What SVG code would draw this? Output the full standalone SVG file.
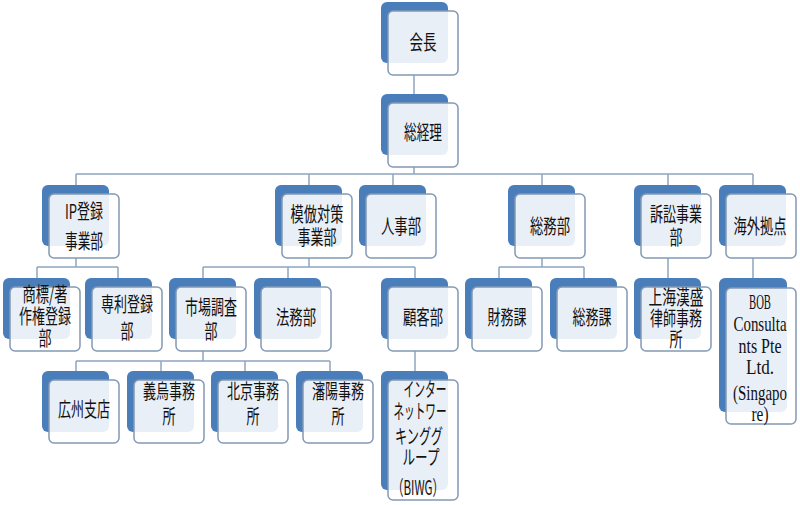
<svg xmlns="http://www.w3.org/2000/svg" width="800" height="505" viewBox="0 0 800 505">
<style>
.b{fill:#4a7ebb}
.f{fill:#ffffff;fill-opacity:0.88;stroke:#8399b4;stroke-width:1.5}
.c{fill:none;stroke:#8fa5c0;stroke-width:1.5}
text{font-family:"Noto Sans CJK JP","Noto Sans",sans-serif;font-size:20px;text-anchor:middle;fill:#111111}
text.s{font-family:"Liberation Serif","Noto Sans CJK JP",serif;font-size:22px}
</style>
<rect width="800" height="505" fill="#ffffff"/>
<g id="connectors" class="c">
<path d="M414,75 V94 M414,167 V174 M76,174 H753 M76,174 V185 M309,174 V185 M393,174 V185 M542,174 V185 M668,174 V185 M753,174 V185"/>
<path d="M76,258 V267 M37,267 H118 M37,267 V278 M118,267 V278"/>
<path d="M309,258 V267 M203,267 H415 M203,267 V278 M288,267 V278 M415,267 V278"/>
<path d="M542,258 V267 M499,267 H584 M499,267 V278 M584,267 V278"/>
<path d="M668,258 V278 M753,258 V278"/>
<path d="M203,351 V361 M76,361 H330 M76,361 V371 M161,361 V371 M245,361 V371 M330,361 V371"/>
<path d="M415,351 V371"/>
</g>
<g id="n-kaicho"><rect class="b" x="381" y="2" width="67" height="61" rx="6"/><rect class="f" x="388" y="11" width="70" height="64" rx="5"/><text x="423" y="50" textLength="27" lengthAdjust="spacingAndGlyphs">会長</text></g>
<g id="n-sokeiri"><rect class="b" x="381" y="94" width="67" height="61" rx="6"/><rect class="f" x="388" y="103" width="70" height="64" rx="5"/><text x="423" y="140" textLength="38" lengthAdjust="spacingAndGlyphs">総経理</text></g>
<g id="n-ip"><rect class="b" x="42" y="185" width="67" height="61" rx="6"/><rect class="f" x="49" y="194" width="70" height="64" rx="5"/><text x="84" y="219" textLength="38" lengthAdjust="spacingAndGlyphs">IP登録</text><text x="84" y="249" textLength="38" lengthAdjust="spacingAndGlyphs">事業部</text></g>
<g id="n-mohou"><rect class="b" x="275" y="185" width="67" height="61" rx="6"/><rect class="f" x="282" y="194" width="70" height="64" rx="5"/><text x="317" y="222" textLength="53" lengthAdjust="spacingAndGlyphs">模倣対策</text><text x="317" y="245" textLength="39" lengthAdjust="spacingAndGlyphs">事業部</text></g>
<g id="n-jinji"><rect class="b" x="359" y="185" width="67" height="61" rx="6"/><rect class="f" x="366" y="194" width="70" height="64" rx="5"/><text x="401" y="234" textLength="40" lengthAdjust="spacingAndGlyphs">人事部</text></g>
<g id="n-somubu"><rect class="b" x="508" y="185" width="67" height="61" rx="6"/><rect class="f" x="515" y="194" width="70" height="64" rx="5"/><text x="550" y="234" textLength="40" lengthAdjust="spacingAndGlyphs">総務部</text></g>
<g id="n-sosho"><rect class="b" x="634" y="185" width="67" height="61" rx="6"/><rect class="f" x="641" y="194" width="70" height="64" rx="5"/><text x="676" y="222" textLength="52" lengthAdjust="spacingAndGlyphs">訴訟事業</text><text x="676" y="245" textLength="13" lengthAdjust="spacingAndGlyphs">部</text></g>
<g id="n-kaigai"><rect class="b" x="719" y="185" width="67" height="61" rx="6"/><rect class="f" x="726" y="194" width="70" height="64" rx="5"/><text x="760" y="234" textLength="53" lengthAdjust="spacingAndGlyphs">海外拠点</text></g>
<g id="n-shohyo"><rect class="b" x="3" y="278" width="67" height="61" rx="6"/><rect class="f" x="10" y="287" width="70" height="64" rx="5"/><text x="45" y="302" textLength="45" lengthAdjust="spacingAndGlyphs">商標/著</text><text x="45" y="324" textLength="52" lengthAdjust="spacingAndGlyphs">作権登録</text><text x="45" y="346" textLength="13" lengthAdjust="spacingAndGlyphs">部</text></g>
<g id="n-senri"><rect class="b" x="85" y="278" width="67" height="61" rx="6"/><rect class="f" x="92" y="287" width="70" height="64" rx="5"/><text x="127" y="312" textLength="52" lengthAdjust="spacingAndGlyphs">専利登録</text><text x="127" y="339" textLength="13" lengthAdjust="spacingAndGlyphs">部</text></g>
<g id="n-shijo"><rect class="b" x="169" y="278" width="67" height="61" rx="6"/><rect class="f" x="176" y="287" width="70" height="64" rx="5"/><text x="211" y="315" textLength="52" lengthAdjust="spacingAndGlyphs">市場調査</text><text x="211" y="339" textLength="13" lengthAdjust="spacingAndGlyphs">部</text></g>
<g id="n-homu"><rect class="b" x="254" y="278" width="67" height="61" rx="6"/><rect class="f" x="261" y="287" width="70" height="64" rx="5"/><text x="296" y="325" textLength="40" lengthAdjust="spacingAndGlyphs">法務部</text></g>
<g id="n-kokyaku"><rect class="b" x="381" y="278" width="67" height="61" rx="6"/><rect class="f" x="388" y="287" width="70" height="64" rx="5"/><text x="423" y="325" textLength="40" lengthAdjust="spacingAndGlyphs">顧客部</text></g>
<g id="n-zaimu"><rect class="b" x="465" y="278" width="67" height="61" rx="6"/><rect class="f" x="472" y="287" width="70" height="64" rx="5"/><text x="507" y="325" textLength="39" lengthAdjust="spacingAndGlyphs">財務課</text></g>
<g id="n-somuka"><rect class="b" x="550" y="278" width="67" height="61" rx="6"/><rect class="f" x="557" y="287" width="70" height="64" rx="5"/><text x="592" y="325" textLength="39" lengthAdjust="spacingAndGlyphs">総務課</text></g>
<g id="n-shanghai"><rect class="b" x="634" y="278" width="67" height="61" rx="6"/><rect class="f" x="641" y="287" width="70" height="64" rx="5"/><text x="676" y="305" textLength="55" lengthAdjust="spacingAndGlyphs">上海漢盛</text><text x="676" y="326" textLength="52" lengthAdjust="spacingAndGlyphs">律師事務</text><text x="676" y="347" textLength="13" lengthAdjust="spacingAndGlyphs">所</text></g>
<g id="n-bob"><rect class="b" x="719" y="278" width="68" height="134" rx="6"/><rect class="f" x="726" y="288" width="70" height="136" rx="5"/><text class="s" x="760" y="309" textLength="22" lengthAdjust="spacingAndGlyphs">BOB</text><text class="s" x="760" y="331" textLength="53" lengthAdjust="spacingAndGlyphs">Consulta</text><text class="s" x="760" y="353" textLength="43" lengthAdjust="spacingAndGlyphs">nts Pte</text><text class="s" x="760" y="374" textLength="28" lengthAdjust="spacingAndGlyphs">Ltd.</text><text class="s" x="760" y="400" textLength="54" lengthAdjust="spacingAndGlyphs">(Singapo</text><text class="s" x="760" y="421" textLength="17" lengthAdjust="spacingAndGlyphs">re)</text></g>
<g id="n-koshu"><rect class="b" x="42" y="371" width="67" height="61" rx="6"/><rect class="f" x="49" y="380" width="70" height="63" rx="5"/><text x="84" y="417" textLength="52" lengthAdjust="spacingAndGlyphs">広州支店</text></g>
<g id="n-giu"><rect class="b" x="127" y="371" width="67" height="61" rx="6"/><rect class="f" x="134" y="380" width="70" height="63" rx="5"/><text x="169" y="399" textLength="52" lengthAdjust="spacingAndGlyphs">義烏事務</text><text x="169" y="424" textLength="13" lengthAdjust="spacingAndGlyphs">所</text></g>
<g id="n-pekin"><rect class="b" x="211" y="371" width="67" height="61" rx="6"/><rect class="f" x="218" y="380" width="70" height="63" rx="5"/><text x="253" y="399" textLength="52" lengthAdjust="spacingAndGlyphs">北京事務</text><text x="253" y="424" textLength="13" lengthAdjust="spacingAndGlyphs">所</text></g>
<g id="n-shinyo"><rect class="b" x="296" y="371" width="67" height="61" rx="6"/><rect class="f" x="303" y="380" width="70" height="63" rx="5"/><text x="338" y="399" textLength="52" lengthAdjust="spacingAndGlyphs">瀋陽事務</text><text x="338" y="424" textLength="13" lengthAdjust="spacingAndGlyphs">所</text></g>
<g id="n-biwg"><rect class="b" x="381" y="371" width="67" height="119" rx="6"/><rect class="f" x="388" y="380" width="70" height="120" rx="5"/><text x="425" y="397" textLength="43" lengthAdjust="spacingAndGlyphs">インター</text><text x="420" y="419" textLength="53" lengthAdjust="spacingAndGlyphs">ネットワー</text><text x="419" y="444" textLength="48" lengthAdjust="spacingAndGlyphs">キンググ</text><text x="421" y="465" textLength="37" lengthAdjust="spacingAndGlyphs">ループ</text><text x="418" y="495" textLength="52" lengthAdjust="spacingAndGlyphs">（BIWG）</text></g>
</svg>
